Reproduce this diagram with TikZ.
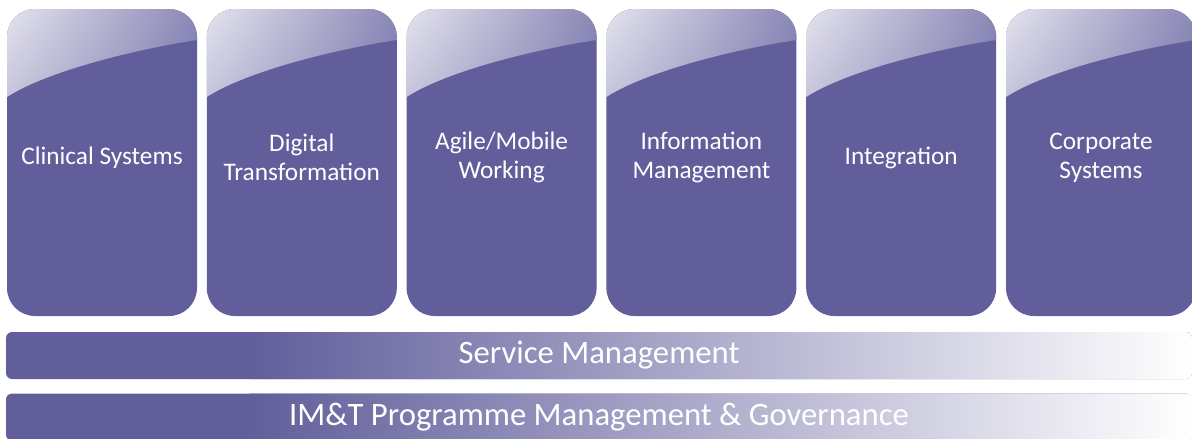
\documentclass[tikz,border=0pt]{standalone}
\usepackage{fontspec}
\setmainfont{Carlito}
\usetikzlibrary{positioning,shadings}
\definecolor{boxc}{RGB}{97,94,155}
\definecolor{hilite}{RGB}{228,227,238}
\definecolor{glossr}{RGB}{138,136,182}
\definecolor{glossl}{RGB}{124,122,174}

\begin{document}
\begin{tikzpicture}[
    x = 1pt, y = -1pt, % pixel grid, y runs downwards
    node distance = 9.2pt, % gap between columns
    semithick % line style
    ]

    \tikzset{pillartext/.style={
    text = white,
    align = center,
    inner sep = 0pt,
    yshift = 5pt,
    font = \fontsize{25.3}{29}\selectfont
    }}
    \tikzset{pillar/.style={
    fill = boxc,
    rounded corners = 28pt,
    minimum width = 190pt,
    minimum height = 307pt,
    inner sep = 0pt,
    label = {[pillartext]center:#1},
    path picture = {\shade[sharp corners, upper left=hilite, upper right=glossr,
        lower left=glossl, lower right=boxc]
      (path picture bounding box.north west) -- (path picture bounding box.north east)
      -- ([yshift=-31pt]path picture bounding box.north east)
      .. controls ([xshift=-60pt,yshift=-40pt]path picture bounding box.north east)
      and ([xshift=40pt,yshift=-62pt]path picture bounding box.north west)
      .. ([yshift=-88pt]path picture bounding box.north west) -- cycle;}
    }}
    \tikzset{band/.style={
    rounded corners = 6pt,
    minimum width = 1186pt,
    minimum height = 47pt,
    inner sep = 0pt,
    text = white,
    font = \fontsize{32.7}{38}\selectfont,
    path picture = {\fill[boxc] (path picture bounding box.south west)
      rectangle (path picture bounding box.north east);
      \shade[sharp corners, left color=boxc, right color=white]
      ([xshift=244pt]path picture bounding box.south west)
      rectangle (path picture bounding box.north east);}
    }}

    \useasboundingbox (0,0) rectangle (1192,439);

    \node[pillar={Clinical Systems}] (cs) at (102,162.5) {};
    \node[pillar={Digital\\Transformation}, right=of cs] (dt) {};
    \node[pillar={Agile/Mobile\\Working}, right=of dt] (am) {};
    \node[pillar={Information\\Management}, right=of am] (im) {};
    \node[pillar={Integration}, right=of im] (in) {};
    \node[pillar={Corporate\\Systems}, right=of in] (co) {};

    \node[band] (sm) at (599,355.5) {Service Management};
    \node[band, below=14pt of sm] (gov) {IM\&T Programme Management \& Governance};
\end{tikzpicture}
\end{document}
